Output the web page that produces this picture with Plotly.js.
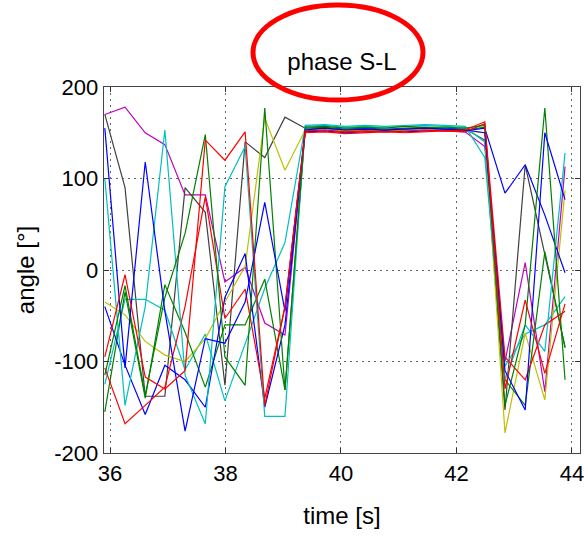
<!DOCTYPE html>
<html>
<head>
<meta charset="utf-8">
<script src="https://cdn.plot.ly/plotly-3.0.1.min.js"></script>
<style>html,body{margin:0;padding:0;background:#fff;}#chart{width:588px;height:536px;}</style>
</head>
<body>
<div id="chart"></div>
<script>
// time stamps [s]
var time = [35.91,36.26,36.61,36.95,37.30,37.65,37.99,38.34,38.68,39.03,39.38,39.72,40.07,40.42,40.76,41.11,41.45,41.80,42.15,42.49,42.84,43.19,43.53,43.88];

// phase angle series [deg]
var magenta1 = [170,178,150,137,82,82,-13,3,-58,-71, 152,154,151,153,152,154,153,152,151,135, -100,8,-133,113];
var gray1    = [170,90,-138,-138,90,63,-126,140,123,167, 155,156,154,155,154,155,156,155,154,142, -153,115,18,-84];
var blue1    = [155,-107,118,-45,-176,-75,-80,-35,74,-45, 153,155,153,154,153,154,155,154,153,150, -110,-153,150,77];
var blue2    = [-40,-104,-158,-104,-120,-150,-30,18,-150,-60, 151,152,150,151,152,151,152,153,152,155, 84,115,60,-3];
var green1   = [-115,-17,-137,-30,40,148,-95,-126,177,-131, 156,157,155,156,155,157,156,156,155,158, -148,-60,177,-120];
var green2   = [-155,-24,-140,-16,-68,-128,-60,-60,-10,-131, 154,155,153,154,153,154,155,154,153,156, -120,-148,20,-85];
var red1     = [-95,-5,-117,-130,-110,142,120,151,-148,-40, 152,153,151,152,151,152,153,152,153,162, -130,-33,-113,-37];
var red2     = [-107,-168,-148,-128,-40,80,-53,-21,-140,-40, 150,151,149,150,151,150,151,152,151,160, -95,-120,-60,-45];
var cyan1    = [100,-148,-40,153,-115,-168,91,135,-160,-160, 158,159,157,158,157,158,159,158,157,123, -120,-60,-89,128];
var cyan2    = [-125,-32,-32,-44,-109,-70,-143,-80,-20,30, 157,158,156,157,156,157,158,157,156,140, -105,-70,-60,-29];
var yellow1  = [-35,-49,-78,-93,-100,-75,-35,4,166,109, 153,154,152,153,152,153,154,153,152,150, -178,-69,-142,87];

var xTickVals = [36,38,40,42,44];
var xTickText = ['36','38','40','42','44'];
var yTickVals = [-200,-100,0,100,200];
var yTickText = ['-200','-100','0','100','200'];

var seriesList = [
  {y: magenta1, c: '#bf00bf'},
  {y: gray1,    c: '#404040'},
  {y: cyan2,    c: '#00bfbf'},
  {y: yellow1,  c: '#bfbf00'},
  {y: green2,   c: '#008000'},
  {y: blue2,    c: '#0000ff'},
  {y: red2,     c: '#ff0000'},
  {y: cyan1,    c: '#00bfbf'},
  {y: green1,   c: '#008000'},
  {y: blue1,    c: '#0000ff'},
  {y: red1,     c: '#ff0000'}
];

var traces = seriesList.map(function(s){
  return {x: time, y: s.y, type: 'scatter', mode: 'lines',
          line: {color: s.c, width: 1.2}, hoverinfo: 'skip', showlegend: false};
});

var fam = 'Liberation Sans, Arial, Helvetica, sans-serif';

var layout = {
  width: 588, height: 536,
  margin: {l: 104, r: 8, t: 87, b: 83},
  paper_bgcolor: '#fff', plot_bgcolor: '#fff',
  showlegend: false,
  font: {family: fam, size: 22, color: '#000'},
  title: {text: 'phase S-L', font: {family: fam, size: 24, color: '#000'},
          xref: 'paper', x: 0.5, xanchor: 'center', yref: 'container', y: 1 - 62/536, yanchor: 'middle'},
  xaxis: {
    range: [35.896, 44.139], tickvals: xTickVals, ticktext: xTickText,
    ticks: 'inside', ticklen: 5, tickcolor: '#333', tickwidth: 1,
    showline: true, linecolor: '#444', linewidth: 1.3, mirror: 'ticks',
    showgrid: true, gridcolor: '#666', gridwidth: 1, griddash: '2px,4px',
    zeroline: false, tickfont: {size: 22},
    title: {text: 'time [s]', font: {size: 24}, standoff: 22}
  },
  yaxis: {
    range: [-200, 200], tickvals: yTickVals, ticktext: yTickText,
    ticks: 'inside', ticklen: 5, tickcolor: '#333', tickwidth: 1,
    showline: true, linecolor: '#444', linewidth: 1.3, mirror: 'ticks',
    showgrid: true, gridcolor: '#666', gridwidth: 1, griddash: '2px,4px',
    zeroline: false, tickfont: {size: 22},
    title: {text: 'angle [°]', font: {size: 24}, standoff: 13}
  },
  shapes: [{
    type: 'circle', xref: 'paper', yref: 'paper', layer: 'above',
    x0: (253-104)/476, x1: (423-104)/476, y0: (453-100)/366, y1: (453-5)/366,
    line: {color: '#ff0000', width: 5}
  }]
};

Plotly.newPlot('chart', traces, layout, {staticPlot: true, displayModeBar: false});
</script>
</body>
</html>
